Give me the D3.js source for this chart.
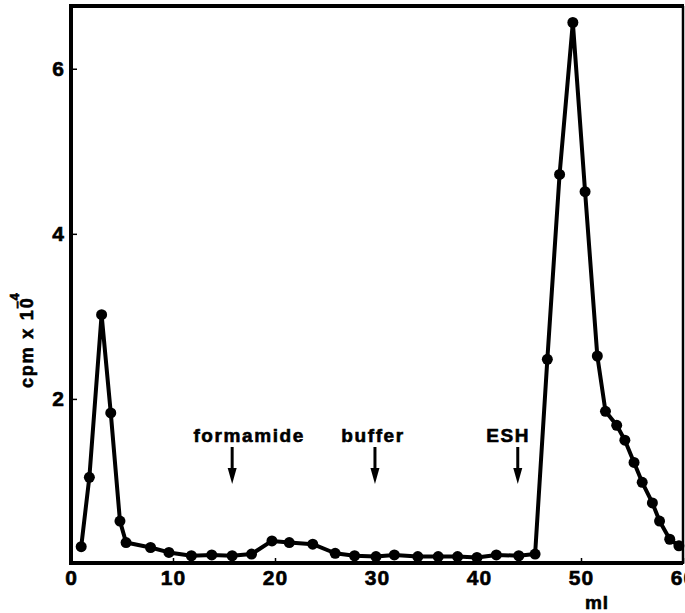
<!DOCTYPE html>
<html>
<head>
<meta charset="utf-8">
<script src="https://cdn.jsdelivr.net/npm/d3@7"></script>
<style>
  body { margin: 0; background: #fff; }
  svg { display: block; font-family: "Liberation Sans", Arial, sans-serif; font-weight: bold; }
</style>
</head>
<body>
<svg id="chart"></svg>
<script>
const width = 685;
const height = 613;

// --- Data ---
const volumeMl = [1, 1.8, 3, 3.9, 4.8, 5.4, 7.8, 9.6, 11.8, 13.8, 15.8, 17.7, 19.7, 21.4, 23.7,
  25.9, 27.8, 29.9, 31.7, 34, 36, 37.9, 39.8, 41.7, 43.9, 45.5, 46.7, 47.9, 49.2, 50.4,
  51.6, 52.4, 53.5, 54.3, 55.2, 56.0, 57.0, 57.7, 58.7, 59.6];
const cpm = [0.21, 1.05, 3.02, 1.83, 0.52, 0.26, 0.2, 0.14, 0.1, 0.11, 0.1, 0.12, 0.28, 0.26, 0.24,
  0.13, 0.1, 0.09, 0.11, 0.09, 0.09, 0.09, 0.08, 0.11, 0.1, 0.12, 2.48, 4.72, 6.56, 4.51,
  2.52, 1.85, 1.68, 1.5, 1.23, 0.99, 0.74, 0.52, 0.3, 0.22];

const xTicks = [0, 10, 20, 30, 40, 50, 60];
const yTicks = [2, 4, 6];

// arrows: label, position (ml), text start (ml)
const markers = [
  {label: "formamide", at: 15.8, textAt: 12.0},
  {label: "buffer", at: 29.8, textAt: 26.5},
  {label: "ESH", at: 43.8, textAt: 40.7}
];

const points = volumeMl.map((v, i) => ({ml: v, cpm: cpm[i]}));

// --- Scales ---
const x = d3.scaleLinear().domain([0, 60]).range([71, 683]);
const y = d3.scaleLinear().domain([0, 6.76]).range([564, 6]);

const svg = d3.select("#chart")
  .attr("width", width)
  .attr("height", height)
  .attr("viewBox", [0, 0, width, height]);

// bold print look: a thin stroke on the text
const heavy = sel => sel
  .attr("font-family", "Liberation Sans, Arial, sans-serif")
  .attr("font-weight", "bold")
  .attr("fill", "#000")
  .attr("stroke", "#000")
  .attr("stroke-width", 0.6);

// --- Axes (ticks point inward) ---
const gx = svg.append("g")
  .attr("transform", `translate(0,${y(0)})`)
  .call(d3.axisBottom(x).tickValues(xTicks).tickSize(-6).tickPadding(6).tickFormat(d3.format("d")));
gx.select(".domain").remove();
gx.selectAll(".tick line").attr("stroke", "#000").attr("stroke-width", 1.5);
gx.selectAll(".tick text")
  .attr("font-size", 21)
  .attr("letter-spacing", 1)
  .call(heavy);

const gy = svg.append("g")
  .attr("transform", `translate(${x(0)},0)`)
  .call(d3.axisLeft(y).tickValues(yTicks).tickSize(-6).tickPadding(7).tickFormat(d3.format("d")));
gy.select(".domain").remove();
gy.selectAll(".tick line").attr("stroke", "#000").attr("stroke-width", 1.5);
gy.selectAll(".tick text")
  .attr("font-size", 21)
  .call(heavy);

// --- Frame ---
const [x0, x1] = x.range();
const yTop = y.range()[1];
const yBot = y(0) - 1;
svg.append("line").attr("x1", x0).attr("x2", x0).attr("y1", yTop - 2).attr("y2", yBot + 2)
  .attr("stroke", "#000").attr("stroke-width", 4);
svg.append("line").attr("x1", x0 - 2).attr("x2", x1).attr("y1", yBot).attr("y2", yBot)
  .attr("stroke", "#000").attr("stroke-width", 4);
svg.append("line").attr("x1", x0 - 2).attr("x2", x1 + 1).attr("y1", yTop).attr("y2", yTop)
  .attr("stroke", "#000").attr("stroke-width", 4);
svg.append("line").attr("x1", x1).attr("x2", x1).attr("y1", yTop).attr("y2", yBot)
  .attr("stroke", "#000").attr("stroke-width", 2.5);

// --- Data line and points ---
const line = d3.line()
  .x(d => x(d.ml))
  .y(d => y(d.cpm));

svg.append("path")
  .datum(points.concat([{ml: 60, cpm: 0.2}]))
  .attr("fill", "none")
  .attr("stroke", "#000")
  .attr("stroke-width", 4)
  .attr("stroke-linejoin", "round")
  .attr("d", line);

svg.append("g")
  .selectAll("circle")
  .data(points)
  .join("circle")
  .attr("cx", d => x(d.ml))
  .attr("cy", d => y(d.cpm))
  .attr("r", 5.5)
  .attr("fill", "#000");

// --- Arrows with labels ---
const gMark = svg.append("g");
markers.forEach(m => {
  const ax = x(m.at);
  gMark.append("text")
    .attr("x", x(m.textAt))
    .attr("y", 442)
    .attr("font-size", 19)
    .attr("letter-spacing", 1.6)
    .call(heavy)
    .text(m.label);
  gMark.append("line")
    .attr("x1", ax).attr("x2", ax)
    .attr("y1", 447).attr("y2", 472)
    .attr("stroke", "#000").attr("stroke-width", 3);
  gMark.append("path")
    .attr("d", `M${ax - 4.5},468 L${ax + 4.5},468 L${ax},484 Z`)
    .attr("fill", "#000");
});

// --- Axis titles ---
svg.append("text")
  .attr("x", 597)
  .attr("y", 609)
  .attr("text-anchor", "middle")
  .attr("font-size", 19)
  .attr("letter-spacing", 1)
  .call(heavy)
  .text("ml");

const yLabel = svg.append("text")
  .attr("transform", "translate(33,388) rotate(-90)")
  .attr("font-size", 18)
  .attr("letter-spacing", 1.8)
  .call(heavy);
yLabel.append("tspan").text("cpm x 10");
yLabel.append("tspan").attr("dx", -12).attr("dy", -12).attr("font-size", 13).text("\u2013");
yLabel.append("tspan").attr("dx", -1).attr("dy", -2).attr("font-size", 13).text("4");
</script>
</body>
</html>
